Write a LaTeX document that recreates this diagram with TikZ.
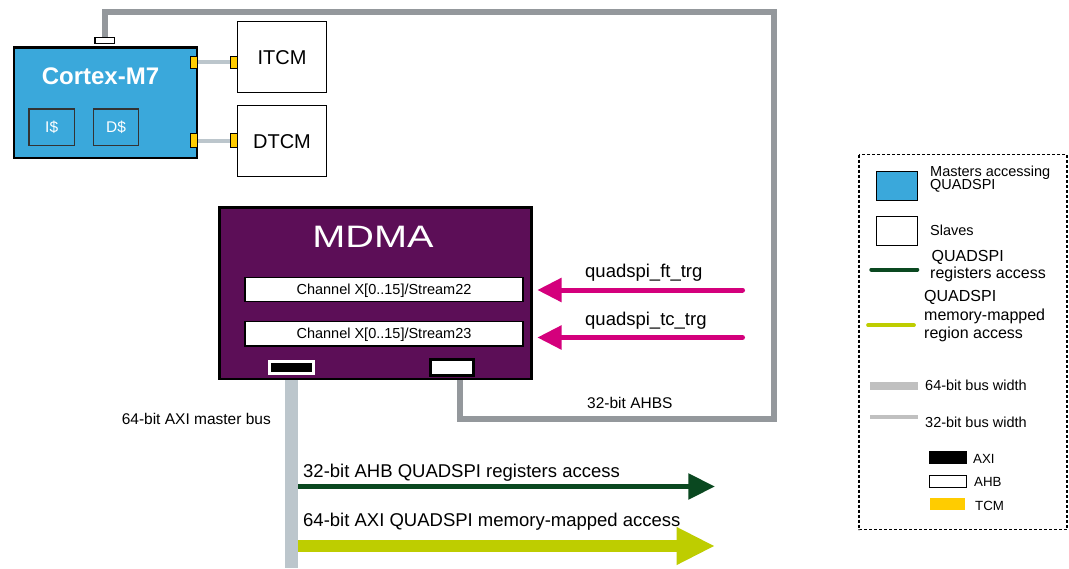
\documentclass[tikz,border=0pt]{standalone}
\usepackage{fontspec}
\setmainfont{Liberation Sans}
\usetikzlibrary{arrows.meta,backgrounds}

\definecolor{cortexblue}{RGB}{58,168,219}
\definecolor{mdmapurple}{RGB}{92,14,87}
\definecolor{trgmagenta}{RGB}{212,0,124}
\definecolor{regsgreen}{RGB}{10,72,32}
\definecolor{memgreen}{RGB}{190,205,0}
\definecolor{tcmyellow}{RGB}{255,204,0}
\definecolor{axigray}{RGB}{188,198,204}
\definecolor{ahbgray}{RGB}{148,152,156}
\definecolor{keygray}{RGB}{192,192,192}
\newcommand{\fsz}[1]{\fontsize{#1}{#1}\selectfont}

\begin{document}
\begin{tikzpicture}[x=1pt,y=-1pt,
  slave/.style={draw=black,fill=white,line width=1pt,inner sep=0pt,minimum width=88.5,minimum height=71,font=\fsz{20}},
  cache/.style={draw=black!80,fill=cortexblue,line width=1.2pt,inner sep=0pt,minimum width=45.5,minimum height=36.5,text=white,text depth=0pt,font=\fsz{15.5}},
  tcmport/.style={draw=black,fill=tcmyellow,line width=0.8pt,inner sep=0pt,minimum width=7,minimum height=12},
  channel/.style={draw=black,fill=white,line width=1.2pt,inner sep=0pt,minimum width=278,text depth=0pt,font=\fsz{14.5}},
  tcmbus/.style={draw=axigray,line width=4pt},
  axibus/.style={draw=axigray,line width=12.5pt},
  ahbbus/.style={draw=ahbgray,line width=5.7pt},
  trg/.style={draw=trgmagenta,line width=5pt,line cap=round,-{Triangle[length=24.4pt,width=23.3pt]}},
  plaintxt/.style={anchor=base west,inner sep=0pt},
  keytxt/.style={anchor=base west,inner sep=0pt,font=\fsz{14.5}}]

\useasboundingbox (0,0) rectangle (1069,568);

% Cortex-M7 and TCMs
\node (cortex) [draw=black,fill=cortexblue,line width=2.5pt,inner sep=0pt,minimum width=182.7,minimum height=110.5] at (105.4,102.5) {};
\node (cortexlbl) [text=white,font=\fsz{24}\bfseries] at (100.5,76.7) {Cortex-M7};
\node (icache) [cache] at (51.7,127.2) {I\$};
\node (dcache) [cache] at (116,127.2) {D\$};
\node (cortexahb) [draw=black,fill=white,line width=1.5pt,inner sep=0pt,minimum width=19.2,minimum height=6] at (104.7,40.5) {};
\node (itcmport) [tcmport] at (194.2,62.2) {};
\node (dtcmport) [tcmport,minimum height=13.5] at (194.2,140.5) {};

\node (itcm) [slave] at (282,57.2) {ITCM};
\node (dtcm) [slave] at (282,141.3) {DTCM};
\node (itcmin) [tcmport] at (233.7,62.2) {};
\node (dtcmin) [tcmport,minimum height=14.5] at (233.7,140.5) {};

% MDMA
\node (mdma) [draw=black,fill=mdmapurple,line width=2.5pt,inner sep=0pt,minimum width=312,minimum height=171.5] at (375.5,293) {};
\node (mdmalbl) [text=white,font=\fsz{31}] at (373,237) {\scalebox{1.28}[1]{MDMA}};
\node (stream22) [channel,minimum height=23.7] at (384,289.5) {Channel X[0..15]/Stream22};
\node (stream23) [channel,minimum height=24.7] at (384,333.6) {Channel X[0..15]/Stream23};
\node (axiport) [draw=white,fill=black,line width=3pt,inner sep=0pt,minimum width=43.5,minimum height=12.3] at (291.6,367.8) {};
\node (ahbport) [draw=black,fill=white,line width=3pt,inner sep=0pt,minimum width=43.3,minimum height=16] at (451.7,367) {};

% triggers
\coordinate (ftsrc) at (742.5,290);
\coordinate (fttip) at (537.3,290);
\coordinate (tcsrc) at (742.5,337.5);
\coordinate (tctip) at (537.3,337.5);
\draw[trg] (ftsrc) -- (fttip);
\draw[trg] (tcsrc) -- (tctip);
\node (ftlbl) [plaintxt,font=\fsz{18.5}] at (585,277.5) {quadspi\_ft\_trg};
\node (tclbl) [plaintxt,font=\fsz{18.5}] at (585,325) {quadspi\_tc\_trg};

% buses
\begin{scope}[on background layer]
\fill[white] (0,0) rectangle (1069,568);
\coordinate (ahbsSE) at (773.7,418.8);
\coordinate (ahbsNE) at (773.7,12.2);
\coordinate (axiend) at (291.6,568);
\coordinate (regsfrom) at (291.6,486.5);
\coordinate (regsto) at (715,486.5);
\coordinate (memfrom) at (291.6,546);
\coordinate (memto) at (715,546);
\draw[ahbbus] ([xshift=8pt]ahbport.center) |- (ahbsSE) -- (ahbsNE) -| (cortexahb.center);
\draw[regsgreen,line width=5.3pt,-{Triangle[length=26.7pt,width=25pt]}] (regsfrom) -- (regsto);
\draw[memgreen,line width=11.7pt,-{Triangle[length=38.3pt,width=35pt]}] (memfrom) -- (memto);
\draw[axibus] (axiport.center) -- (axiend);
\draw[tcmbus] (itcmport) -- (itcmin);
\draw[tcmbus] (dtcmport) -- (dtcmin);
\end{scope}

\node (ahbslbl) [plaintxt,font=\fsz{15.5}] at (587,408.7) {32-bit AHBS};
\node (axilbl) [plaintxt,anchor=base east,font=\fsz{15.5}] at (271,424.3) {64-bit AXI master bus};
\node (regslbl) [plaintxt,font=\fsz{18.5}] at (303,477) {32-bit AHB QUADSPI registers access};
\node (memlbl) [plaintxt,font=\fsz{18.5}] at (303,526.7) {64-bit AXI QUADSPI memory-mapped access};

% legend
\draw[black,line width=1.6pt,dash pattern=on 3pt off 2pt] (859,154.5) rectangle (1067,529.5);
\node (keymaster) [draw=black,fill=cortexblue,line width=1.2pt,inner sep=0pt,minimum width=41,minimum height=29] at (897.2,185.8) {};
\node (keyslave) [draw=black,fill=white,line width=1.2pt,inner sep=0pt,minimum width=41,minimum height=29] at (897.2,231) {};
\draw[regsgreen,line width=4pt,line cap=round] (871.3,269.5) -- (917.3,269.5);
\draw[memgreen,line width=3.7pt,line cap=round] (868,325.2) -- (914,325.2);
\draw[keygray,line width=7.7pt] (870,386.2) -- (918.3,386.2);
\draw[keygray,line width=3.7pt] (870,416.8) -- (918.3,416.8);
\node (keyaxi) [fill=black,inner sep=0pt,minimum width=37.4,minimum height=13.3] at (948,457.4) {};
\node (keyahb) [draw=black,fill=white,line width=1pt,inner sep=0pt,minimum width=36.4,minimum height=11.7] at (948,481.4) {};
\node (keytcm) [fill=tcmyellow,inner sep=0pt,minimum width=35,minimum height=11.7] at (947.5,504.2) {};

\node (keymasterA) [keytxt] at (930,176) {Masters accessing};
\node (keymasterB) [keytxt] at (930,189.3) {QUADSPI};
\node (keyslavetxt) [keytxt] at (930,235) {Slaves};
\node (keyregsA) [keytxt,font=\fsz{16}] at (931.5,261.7) {QUADSPI};
\node (keyregsB) [keytxt,font=\fsz{16}] at (930,278.3) {registers access};
\node (keymemA) [keytxt,font=\fsz{16}] at (924,301.7) {QUADSPI};
\node (keymemB) [keytxt,font=\fsz{16}] at (924,320) {memory-mapped};
\node (keymemC) [keytxt,font=\fsz{16}] at (924,338.3) {region access};
\node (key64) [keytxt] at (925,390.7) {64-bit bus width};
\node (key32) [keytxt] at (925,427.3) {32-bit bus width};
\node (keyaxitxt) [keytxt,font=\fsz{13.3}] at (973,463.3) {AXI};
\node (keyahbtxt) [keytxt,font=\fsz{13.3}] at (974,486.7) {AHB};
\node (keytcmtxt) [keytxt,font=\fsz{13.3}] at (975,510.7) {TCM};

\end{tikzpicture}
\end{document}
